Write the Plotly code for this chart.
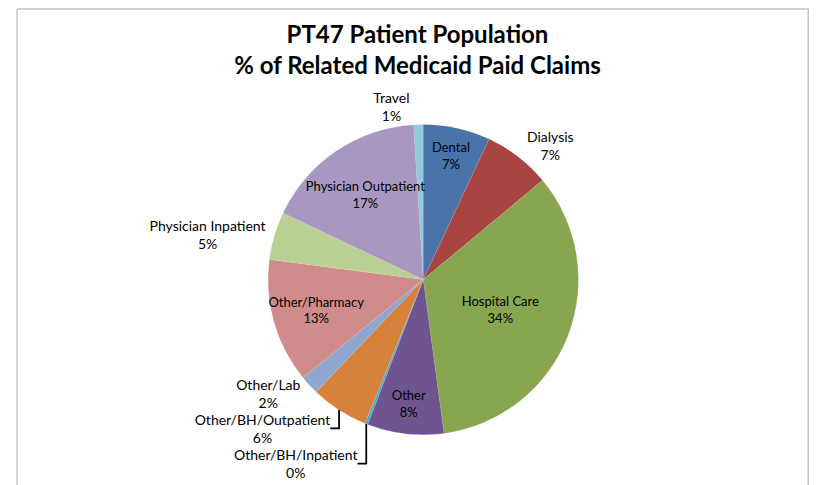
import plotly.graph_objects as go

categories = ["Travel", "Dental", "Dialysis", "Hospital Care", "Other", "Other/BH/Inpatient",
              "Other/BH/Outpatient", "Other/Lab", "Other/Pharmacy",
              "Physician Inpatient", "Physician Outpatient"]
values = [1, 7, 7, 34, 8, 0.3, 6, 2, 13, 5, 17]
colors = ["#93CADB", "#4A73AA", "#A84442", "#88A650", "#6F558F", "#4BACC6",
          "#D7823B", "#8FA6CF", "#CF8C8B", "#BACF94", "#A898C1"]
text_positions = ["outside", "inside", "outside", "inside", "inside", "outside",
                  "outside", "outside", "inside", "outside", "inside"]

FONT = "Lato, 'Open Sans', sans-serif"

# Travel is listed first so its thin slice is drawn before the wide labels;
# the rotation puts its start just left of 12 o'clock so Dental still starts at the top.
travel_rotation = -360.0 * values[0] / sum(values)

fig = go.Figure()
fig.add_trace(go.Pie(
    labels=categories,
    values=values,
    sort=False,
    direction="clockwise",
    rotation=travel_rotation,
    marker=dict(colors=colors, line=dict(color="rgba(255,255,255,0.15)", width=0.5)),
    texttemplate="%{label}<br>%{percent:.0%}",
    textposition=text_positions,
    insidetextorientation="horizontal",
    textfont=dict(family=FONT, size=14, color="#000000"),
    insidetextfont=dict(family=FONT, size=13, color="#000000"),
    outsidetextfont=dict(family=FONT, size=14, color="#000000"),
    showlegend=False,
    hoverinfo="label+percent",
    domain=dict(x=[0.189, 0.825], y=[0.12, 0.76]),
))

border = dict(color="#A6A6A6", width=1)
fig.update_layout(
    width=819, height=485,
    margin=dict(l=0, r=0, t=0, b=0, autoexpand=False),
    paper_bgcolor="white",
    plot_bgcolor="white",
    font=dict(family=FONT, color="#000000"),
    title=dict(
        text="<b>PT47 Patient Population<br>% of Related Medicaid Paid Claims</b>",
        x=0.5, xanchor="center", y=0.928, yanchor="top",
        font=dict(family=FONT, size=24, color="#000000"),
    ),
    uniformtext=dict(minsize=13, mode="show"),
    shapes=[
        dict(type="line", xref="paper", yref="paper", x0=0.011, x1=0.011, y0=0.0, y1=0.998,
             line=border, layer="above"),
        dict(type="line", xref="paper", yref="paper", x0=0.011, x1=0.977, y0=0.998, y1=0.998,
             line=border, layer="above"),
        dict(type="line", xref="paper", yref="paper", x0=0.977, x1=0.977, y0=0.0, y1=0.998,
             line=border, layer="above"),
    ],
)

fig.write_html("out.html")
